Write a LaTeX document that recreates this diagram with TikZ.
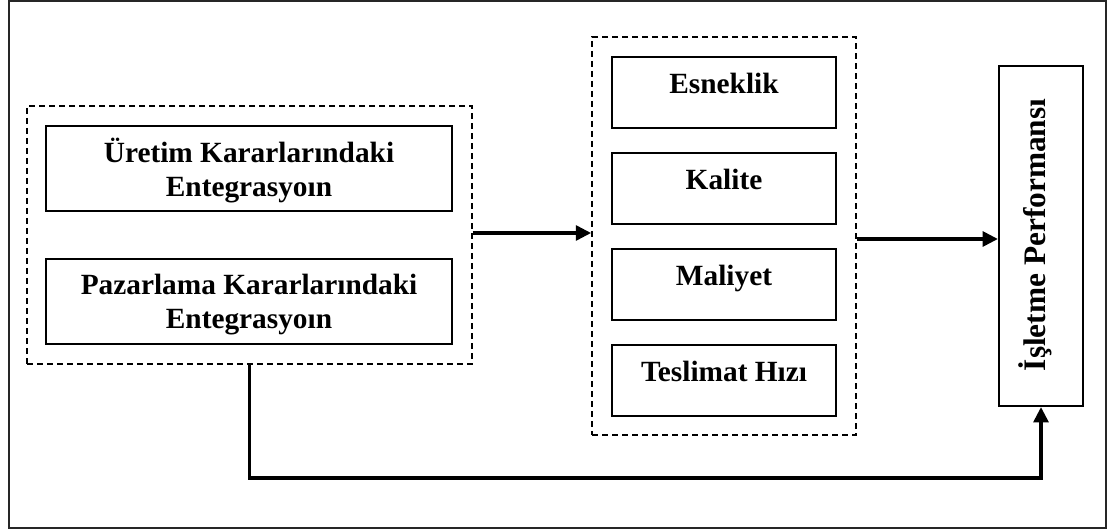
\documentclass[tikz,border=0pt]{standalone}
\usepackage{fontspec}
\setmainfont{Liberation Serif}
\usetikzlibrary{arrows.meta,fit}
\begin{document}
\begin{tikzpicture}[x=0.75pt,y=-0.75pt,
  frame/.style={draw=black!85,line width=1.3pt,inner sep=0pt},
  group/.style={draw=black,line width=1.2pt,dash pattern=on 4.5pt off 3pt,inner sep=0pt},
  box/.style={draw=black,line width=1.5pt,inner sep=0pt},
  lbl/.style={font=\bfseries\fontsize{22}{25.5}\selectfont,align=center,inner sep=0pt,anchor=base},
  flow/.style={line width=2.8pt,-{Triangle[length=11.5pt,width=11pt]}}]
\useasboundingbox (0,0) rectangle (1108,531);
\node[frame,fit={(9,1) (1106,528)}] (outer) {};
% left group
\node[group,fit={(27,106) (472,364)}] (G1) {};
\node[box,fit={(46,126) (452,211)}] (uretim) {};
\node[lbl] (uretimT) at (249,197) {Üretim Kararlarındaki\\Entegrasyoın};
\node[box,fit={(46,259) (452,344)}] (pazar) {};
\node[lbl] (pazarT) at (249,329) {Pazarlama Kararlarındaki\\Entegrasyoın};
% middle group
\node[group,fit={(592,37) (856,435)}] (G2) {};
\node[box,fit={(612,57) (836,128)}] (esn) {};
\node[lbl] (esnT) at (724,94) {Esneklik};
\node[box,fit={(612,153) (836,224)}] (kal) {};
\node[lbl] (kalT) at (724,190) {Kalite};
\node[box,fit={(612,249) (836,320)}] (mal) {};
\node[lbl] (malT) at (724,286) {Maliyet};
\node[box,fit={(612,345) (836,416)}] (tes) {};
\node[lbl] (tesT) at (724,382) {Teslimat Hızı};
% right box
\node[box,fit={(999,66) (1083,406)}] (isl) {};
\node[lbl,rotate=90,font=\bfseries\fontsize{23.5}{27}\selectfont] (islT) at (1045,235) {İşletme Performansı};
% connectors
\coordinate (low) at (0,478);
\draw[flow] ([yshift=1.5pt]G1.east) -- ([yshift=1.5pt]G1.east -| G2.west);
\draw[flow] ([yshift=-2.25pt]G2.east) -- ([yshift=-2.25pt]G2.east -| isl.west);
\draw[flow] (G1.south) |- (low -| isl.south) -- (isl.south);
\end{tikzpicture}
\end{document}
